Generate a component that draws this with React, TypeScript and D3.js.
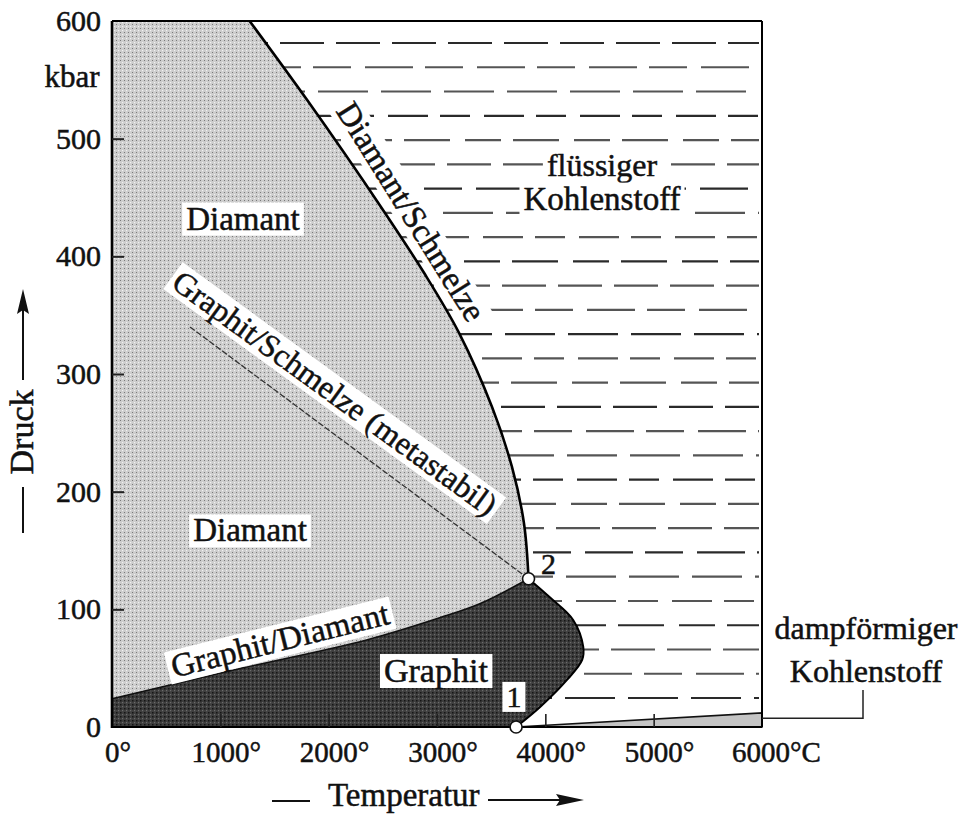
import React, { useRef, useEffect } from 'react'
import * as d3 from 'd3'

// Temperatur in °C, Druck in kbar
const tempTicks = [0, 1000, 2000, 3000, 4000, 5000, 6000]
const pressTicks = [0, 100, 200, 300, 400, 500, 600]

// Phasengrenzen [T, p]
const graphitDiamant = [[0, 24], [1100, 48], [2350, 74], [3030, 93], [3400, 105], [3845, 126]]
const diamantSchmelze = [[1270, 600], [1800, 533], [2483, 442], [2880, 386], [3203, 335], [3508, 272], [3692, 221], [3803, 173], [3845, 126]]
const graphitSchmelze = [[3730, 0], [3952, 17], [4200, 40], [4340, 57], [4350, 68], [4257, 91], [4044, 110], [3845, 126]]
const metastabil = [[720, 340], [3845, 126]]
const dampf = [[3730, 0], [6000, 12]]
const tripelPunkte = [{ name: '1', t: 3730, p: 0 }, { name: '2', t: 3845, p: 126 }]

const W = 967
const H = 814
const FONT = '"Liberation Serif", "DejaVu Serif", serif'

const App = () => {
  const svgEl = useRef<SVGSVGElement>(null)

  useEffect(() => {
    const svg = d3.select(svgEl.current)
    svg.selectAll('*').remove()

    const x = d3.scaleLinear().domain([0, 6000]).range([112, 762])
    const y = d3.scaleLinear().domain([0, 600]).range([727, 21])

    const line = d3.line<number[]>()
      .x(d => x(d[0]))
      .y(d => y(d[1]))
      .curve(d3.curveCatmullRom.alpha(0.5))
    const seg = (pts: number[][]) => (line(pts) || '').replace(/^M/, 'L')
    const rev = (pts: number[][]) => pts.slice().reverse()

    const defs = svg.append('defs')
    // Raster fuer Diamant
    const pd = defs.append('pattern').attr('id', 'diamant').attr('width', 4).attr('height', 4)
      .attr('patternUnits', 'userSpaceOnUse')
    pd.append('rect').attr('width', 4).attr('height', 4).attr('fill', '#cdcdcd')
    pd.append('rect').attr('width', 1).attr('height', 1).attr('fill', '#7a7a7a')
    pd.append('rect').attr('x', 2).attr('y', 2).attr('width', 1.2).attr('height', 1.2).attr('fill', '#f2f2f2')
    // Raster fuer Graphit
    const pg = defs.append('pattern').attr('id', 'graphit').attr('width', 4).attr('height', 4)
      .attr('patternUnits', 'userSpaceOnUse')
    pg.append('rect').attr('width', 4).attr('height', 4).attr('fill', '#3e3e3e')
    pg.append('rect').attr('width', 1.5).attr('height', 1.5).attr('fill', '#151515')
    pg.append('rect').attr('x', 2).attr('y', 2).attr('width', 1.2).attr('height', 1.2).attr('fill', '#6c6c6c')

    const liquidPath = `M${x(1270)},${y(600)}` + seg(diamantSchmelze) + seg(rev(graphitSchmelze)) +
      seg(dampf) + `L${x(6000)},${y(600)}Z`
    defs.append('clipPath').attr('id', 'fluessig').append('path').attr('d', liquidPath)

    // Diamant
    svg.append('path')
      .attr('d', `M${x(0)},${y(600)}L${x(1270)},${y(600)}` + seg(diamantSchmelze) + seg(rev(graphitDiamant)) + 'Z')
      .attr('fill', 'url(#diamant)')
    // Graphit
    svg.append('path')
      .attr('d', `M${x(0)},${y(0)}L${x(3730)},${y(0)}` + seg(graphitSchmelze) + seg(rev(graphitDiamant)) + 'Z')
      .attr('fill', 'url(#graphit)')

    // Schraffur fluessiger Kohlenstoff
    const dashes = ['44 12', '38 14 48 12', '50 13', '40 12 30 14', '46 15 36 12']
    const hatch = svg.append('g').attr('clip-path', 'url(#fluessig)')
    d3.range(28).forEach(i => {
      const yy = 43 + i * 24.26
      hatch.append('line')
        .attr('x1', x(0)).attr('x2', x(6000) - 3)
        .attr('y1', yy).attr('y2', yy)
        .attr('stroke', i % 3 === 0 ? '#2a2a2a' : '#555')
        .attr('stroke-width', 2.2)
        .attr('stroke-dasharray', dashes[i % dashes.length])
        .attr('stroke-dashoffset', (i * 23) % 57)
    })

    // dampfoermig
    svg.append('path')
      .attr('d', `M${x(3730)},${y(0)}` + seg(dampf) + `L${x(6000)},${y(0)}Z`)
      .attr('fill', '#c4c4c4').attr('stroke', '#111').attr('stroke-width', 1.5)

    // Grenzlinien
    svg.append('path').attr('d', line(graphitDiamant)).attr('fill', 'none')
      .attr('stroke', '#111').attr('stroke-width', 1.5)
    svg.append('path').attr('d', line(diamantSchmelze)).attr('fill', 'none')
      .attr('stroke', '#000').attr('stroke-width', 2.6)
    svg.append('path').attr('d', line(graphitSchmelze)).attr('fill', 'none')
      .attr('stroke', '#000').attr('stroke-width', 2)
    svg.append('path').attr('d', d3.line<number[]>().x(d => x(d[0])).y(d => y(d[1]))(metastabil))
      .attr('fill', 'none').attr('stroke', '#333').attr('stroke-width', 1.3)
      .attr('stroke-dasharray', '6 2')

    // Rahmen
    const frame = svg.append('g').attr('stroke', '#000').attr('fill', 'none')
    frame.append('line').attr('x1', x(0)).attr('x2', x(6000)).attr('y1', y(600)).attr('y2', y(600)).attr('stroke-width', 2.2)
    frame.append('line').attr('x1', x(6000)).attr('x2', x(6000)).attr('y1', y(600)).attr('y2', y(0)).attr('stroke-width', 2)
    frame.append('line').attr('x1', x(0)).attr('x2', x(0)).attr('y1', y(600)).attr('y2', y(0) + 1).attr('stroke-width', 2.6)
    frame.append('line').attr('x1', x(0)).attr('x2', x(6000)).attr('y1', y(0)).attr('y2', y(0)).attr('stroke-width', 2.2)

    // Achsen (Striche nach innen)
    const yAxis = d3.axisLeft(y).tickValues(pressTicks.slice(1, -1)).tickSize(-12).tickFormat(() => '')
    svg.append('g').attr('transform', `translate(${x(0)},0)`).call(yAxis)
      .call(g => g.select('.domain').remove())
      .selectAll('line').attr('stroke', '#222').attr('stroke-width', 2)
    const xAxis = d3.axisBottom(x).tickValues(tempTicks.slice(1, -1)).tickSize(-13).tickFormat(() => '')
    svg.append('g').attr('transform', `translate(0,${y(0)})`).call(xAxis)
      .call(g => g.select('.domain').remove())
      .selectAll('line').attr('stroke', '#222').attr('stroke-width', 1.6)

    // Schrift etwas kraeftiger wie im Druck
    const txt = svg.append('g').attr('font-family', FONT).attr('fill', '#111')
      .attr('stroke', '#111').attr('stroke-width', 0.5)
    pressTicks.forEach(p => {
      txt.append('text').attr('x', 101).attr('y', y(p) + 10)
        .attr('text-anchor', 'end').attr('font-size', 30).text(p)
    })
    tempTicks.forEach(t => {
      const last = t === 6000
      txt.append('text').attr('x', last ? x(t) - 30 : x(t) + 6).attr('y', 762)
        .attr('text-anchor', last ? 'start' : 'middle').attr('font-size', 29)
        .text(last ? `${t}°C` : `${t}°`)
    })
    txt.append('text').attr('x', 72).attr('y', 87).attr('text-anchor', 'middle')
      .attr('font-size', 31).text('kbar')

    // Achsentitel mit Pfeilen
    txt.append('text').attr('x', 328).attr('y', 806).attr('font-size', 33).text('Temperatur')
    svg.append('line').attr('x1', 272).attr('x2', 310).attr('y1', 801).attr('y2', 801)
      .attr('stroke', '#111').attr('stroke-width', 2)
    svg.append('line').attr('x1', 488).attr('x2', 566).attr('y1', 800).attr('y2', 800)
      .attr('stroke', '#111').attr('stroke-width', 2)
    svg.append('path').attr('d', 'M584,800L556,794L560,800L556,806Z').attr('fill', '#111')

    txt.append('text').attr('transform', 'translate(33,432) rotate(-90)')
      .attr('text-anchor', 'middle').attr('font-size', 34).text('Druck')
    svg.append('line').attr('x1', 23).attr('x2', 23).attr('y1', 487).attr('y2', 533)
      .attr('stroke', '#111').attr('stroke-width', 2)
    svg.append('line').attr('x1', 23).attr('x2', 23).attr('y1', 380).attr('y2', 306)
      .attr('stroke', '#111').attr('stroke-width', 2)
    svg.append('path').attr('d', 'M23,289L17,314L23,310L29,314Z').attr('fill', '#111')

    // Hinweislinie dampfoermig
    svg.append('path')
      .attr('d', `M${x(6000)},${y(7.5)}H863V690`)
      .attr('fill', 'none').attr('stroke', '#222').attr('stroke-width', 1.5)

    // Beschriftungen mit weissem Hintergrund
    const label = (t: number, p: number, s: string, angle: number, size: number, box: boolean) => {
      const g = svg.append('g').attr('transform', `translate(${x(t)},${y(p)}) rotate(${angle})`)
      const tx = g.append('text').attr('text-anchor', 'middle').attr('dominant-baseline', 'central')
        .attr('font-family', FONT).attr('font-size', size).attr('fill', '#111')
        .attr('stroke', '#111').attr('stroke-width', 0.5).text(s)
      if (box) {
        const b = (tx.node() as SVGTextElement).getBBox()
        g.insert('rect', 'text').attr('x', b.x - 4).attr('y', b.y + 2)
          .attr('width', b.width + 8).attr('height', b.height - 3).attr('fill', '#fff')
      }
    }
    label(1209, 432, 'Diamant', 0, 33, true)
    label(1274, 167, 'Diamant', 0, 33, true)
    label(2990, 48, 'Graphit', 0, 34, true)
    label(4523, 478, 'flüssiger', 0, 32, true)
    label(4523, 449, 'Kohlenstoff', 0, 33, true)
    label(2760, 438, 'Diamant/Schmelze', 58, 33, true)
    label(2059, 284, 'Graphit/Schmelze (metastabil)', 36, 32, true)
    label(1551, 74, 'Graphit/Diamant', -14, 33, true)
    label(3710, 26, '1', 0, 30, true)
    label(4030, 139, '2', 0, 30, false)
    txt.append('text').attr('x', 866).attr('y', 639).attr('text-anchor', 'middle')
      .attr('font-size', 32).text('dampförmiger')
    txt.append('text').attr('x', 866).attr('y', 682).attr('text-anchor', 'middle')
      .attr('font-size', 32).text('Kohlenstoff')

    // Tripelpunkte
    svg.selectAll('.tp').data(tripelPunkte).enter().append('circle')
      .attr('class', 'tp')
      .attr('cx', d => x(d.t)).attr('cy', d => y(d.p)).attr('r', 6)
      .attr('fill', '#fff').attr('stroke', '#111').attr('stroke-width', 1.6)
  }, [])

  return (
    <svg ref={svgEl} width={W} height={H} viewBox={`0 0 ${W} ${H}`}
      style={{ position: 'absolute', left: 0, top: 0, background: '#fff' }} />
  )
}

export default App
